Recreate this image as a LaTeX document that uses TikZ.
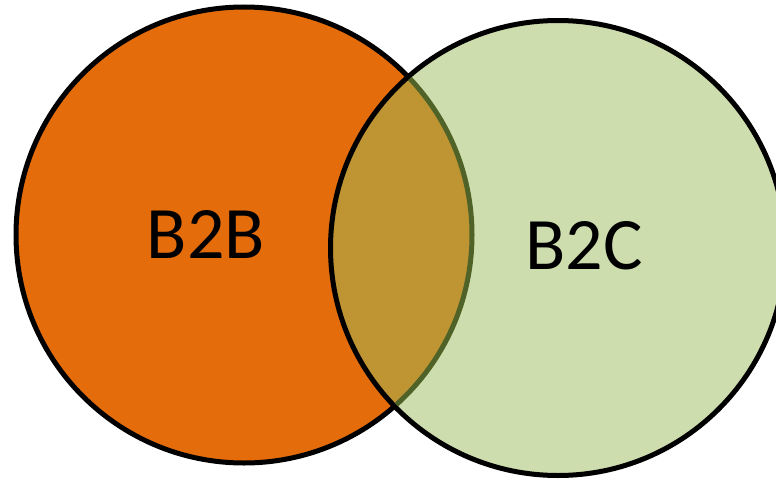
\documentclass[tikz,border=0pt]{standalone}
\usepackage{fontspec}
\setmainfont{Carlito}
\definecolor{bOrange}{HTML}{E46C0A}
\definecolor{bGreen}{HTML}{CEDDAD}
\definecolor{bOverlap}{HTML}{BF9433}
\definecolor{bEdge}{HTML}{4F6228}
\begin{document}
\begin{tikzpicture}[x=1pt,y=-1pt,
  setlabel/.style={font=\fontsize{74}{80}\selectfont, text=black},
  rim/.style={line width=5pt}]
\useasboundingbox (0,0) rectangle (776,479);
% B2B set
\fill[bOrange] (244,235) circle (228);
% B2C set
\fill[bGreen] (558,248) circle (227.5);
% intersection
\begin{scope}
  \clip (244,235) circle (228);
  \fill[bOverlap] (558,248) circle (227.5);
\end{scope}
% outlines
\draw[rim, black] (558,248) circle (227.5);
\begin{scope}[even odd rule]
  \clip (-10,-10) rectangle (786,489) (558,248) circle (227.5);
  \draw[rim, black] (244,235) circle (228);
\end{scope}
\begin{scope}
  \clip (558,248) circle (225);
  \draw[rim, bEdge] (244,235) circle (228);
\end{scope}
\node[setlabel] (b2b) at (206,234) {B2B};
\node[setlabel] (b2c) at (584,246) {B2C};
\end{tikzpicture}
\end{document}
